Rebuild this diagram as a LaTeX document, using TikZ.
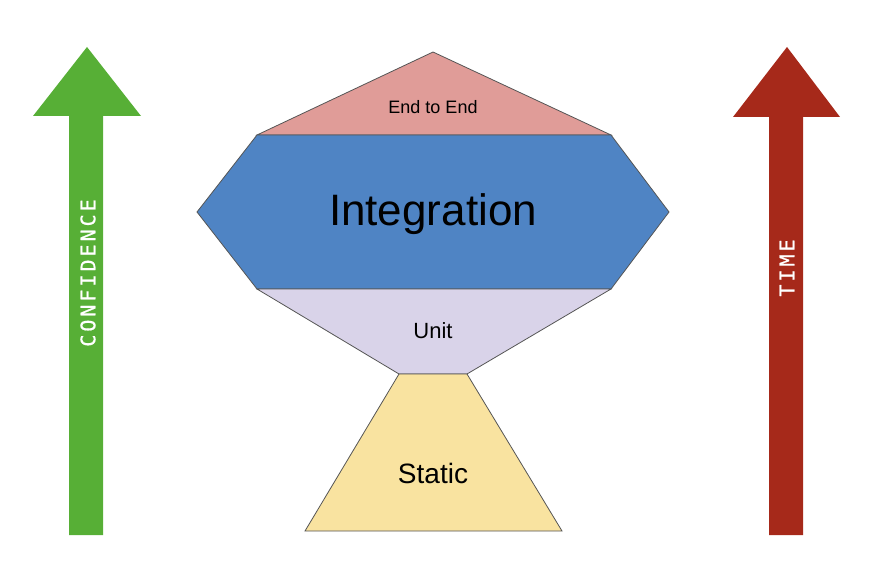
\documentclass[tikz,border=0pt]{standalone}
\usepackage{fontspec}
\setmainfont{Liberation Sans}
\newfontfamily\monof[LetterSpace=15,FakeBold=0.8]{DejaVu Sans Mono}
\definecolor{cgreen}{HTML}{57AF36}
\definecolor{cred}{HTML}{A6291A}
\definecolor{cpink}{HTML}{E09C98}
\definecolor{cblue}{HTML}{4F84C4}
\definecolor{clav}{HTML}{D9D3E9}
\definecolor{cyel}{HTML}{F9E3A0}
\definecolor{cedge}{HTML}{555555}
\tikzset{
  layer/.style={draw=cedge, line width=0.6pt, line join=miter},
  bigarrow/.style={draw=none},
  lbl/.style={inner sep=0pt, text=black},
  vlbl/.style={inner sep=0pt, text=white, rotate=90, font=\monof\fontsize{15}{15}\selectfont}
}
\begin{document}
\begin{tikzpicture}[x=0.75pt, y=-0.75pt]
\useasboundingbox (0,0) rectangle (880,573);
% arrows
\fill[cgreen, bigarrow] (87,47) -- (141,116) -- (103,116) -- (103,535) -- (69,535) -- (69,116) -- (33,116) -- cycle;
\fill[cred, bigarrow] (787,47) -- (840,117) -- (803,117) -- (803,535) -- (769,535) -- (769,117) -- (733,117) -- cycle;
\node[vlbl] (conf) at (88,273) {CONFIDENCE};
\node[vlbl] (time) at (787,268) {TIME};
% layers
\filldraw[layer, fill=cpink] (433,52) -- (611,135) -- (257,135) -- cycle;
\filldraw[layer, fill=cblue] (257,135) -- (611,135) -- (669,212) -- (611,289) -- (257,289) -- (197,212) -- cycle;
\filldraw[layer, fill=clav] (257,289) -- (611,289) -- (467,374) -- (399,374) -- cycle;
\filldraw[layer, fill=cyel] (399,374) -- (467,374) -- (562,531) -- (305,531) -- cycle;
% labels
\node[lbl, font=\fontsize{13.5}{14}\selectfont] (e2e) at (433,107) {End to End};
\node[lbl, font=\fontsize{33}{36}\selectfont] (integ) at (433,214) {Integration};
\node[lbl, font=\fontsize{16.5}{18}\selectfont] (unit) at (433,331) {Unit};
\node[lbl, font=\fontsize{21}{24}\selectfont] (static) at (433,473) {Static};
\end{tikzpicture}
\end{document}
